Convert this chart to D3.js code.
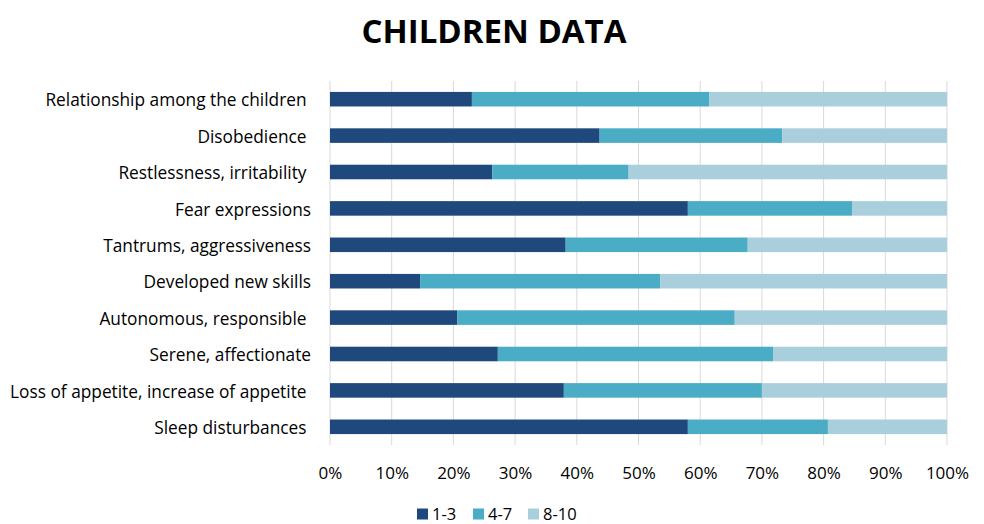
<!DOCTYPE html>
<html><head><meta charset="utf-8">
<script src="https://cdn.jsdelivr.net/npm/d3@7"></script>
<style>body{margin:0;background:#fff}svg{display:block}text{font-family:"Open Sans",sans-serif}</style>
</head><body>
<script>
const categories = ["Relationship among the children ","Disobedience ","Restlessness, irritability ","Fear expressions","Tantrums, aggressiveness","Developed new skills","Autonomous, responsible ","Serene, affectionate","Loss of appetite, increase of appetite ","Sleep disturbances "];
const seriesNames = ["1-3","4-7","8-10"];
const s13  = [23.0, 43.7, 26.3, 58.0, 38.2, 14.6, 20.6, 27.2, 37.9, 58.0];
const s47  = [38.5, 29.6, 22.1, 26.6, 29.5, 38.9, 45.0, 44.6, 32.1, 22.7];
const s810 = [38.5, 26.7, 51.6, 15.4, 32.3, 46.5, 34.4, 28.2, 30.0, 19.3];
const tickValues = [0,0.1,0.2,0.3,0.4,0.5,0.6,0.7,0.8,0.9,1];
const colors = ["#1F497D","#4BACC6","#AACFDC"];

const W=984,H=524;
const svg=d3.select("body").append("svg").attr("width",W).attr("height",H);
const x=d3.scaleLinear().domain([0,1]).range([330,947]);
const y=d3.scaleBand().domain(categories).range([81,445]).paddingInner(0.6).paddingOuter(0.3);

const rows=categories.map((c,i)=>({cat:c,"1-3":s13[i],"4-7":s47[i],"8-10":s810[i]}));
const stacked=d3.stack().keys(seriesNames).offset(d3.stackOffsetExpand)(rows);

svg.append("g").selectAll("line").data(tickValues).join("line")
 .attr("x1",d=>x(d)).attr("x2",d=>x(d)).attr("y1",81).attr("y2",445)
 .attr("stroke","#D9D9D9").attr("stroke-width",1);

svg.append("g").selectAll("g").data(stacked).join("g").attr("fill",(d,i)=>colors[i])
 .selectAll("rect").data(d=>d).join("rect")
 .attr("x",d=>x(d[0])).attr("width",d=>x(d[1])-x(d[0]))
 .attr("y",d=>y(d.data.cat)).attr("height",y.bandwidth());

const FS=17;
const xa=d3.axisBottom(x).tickValues(tickValues).tickFormat(d3.format(".0%")).tickSize(0).tickPadding(0);
const gx=svg.append("g").attr("transform","translate(0,467)").call(xa);
gx.select(".domain").remove();
gx.selectAll("text").attr("font-size",FS).attr("fill","#000").attr("font-family","Open Sans");

const ya=d3.axisLeft(y).tickSize(0).tickPadding(0);
const gy=svg.append("g").attr("transform","translate(311,0)").call(ya);
gy.select(".domain").remove();
gy.selectAll("text").attr("font-size",17.3).attr("dy","0.42em").attr("fill","#000").attr("font-family","Open Sans").style("white-space","pre");

svg.append("text").attr("x",494).attr("y",43).attr("text-anchor","middle")
 .attr("font-size",33).attr("font-weight","bold").attr("fill","#000").attr("font-family","Lato").text("CHILDREN DATA");

const legX=[417,473,528];
const lg=svg.append("g").selectAll("g").data(seriesNames).join("g")
 .attr("transform",(d,i)=>`translate(${legX[i]},508)`);
lg.append("rect").attr("width",11).attr("height",11).attr("y",0.5).attr("fill",(d,i)=>colors[i]);
lg.append("text").attr("x",15).attr("y",11.5).attr("font-size",16.5).attr("fill","#000").text(d=>d);
</script>
</body></html>
